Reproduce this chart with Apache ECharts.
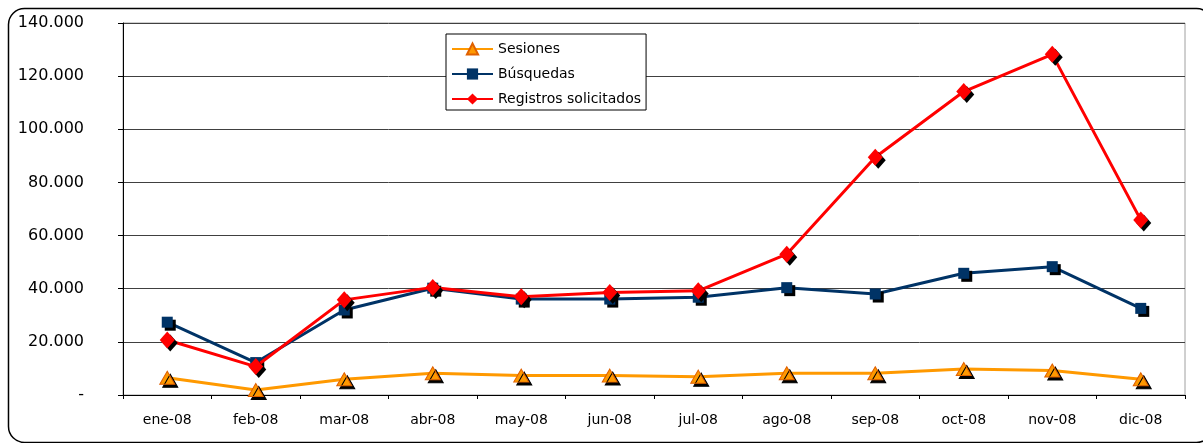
<!DOCTYPE html>
<html>
<head>
<meta charset="utf-8">
<script src="https://cdn.jsdelivr.net/npm/echarts@6/dist/echarts.min.js"></script>
<style>
html,body{margin:0;padding:0;background:#fff;}
#chart{width:1203px;height:443px;}
</style>
</head>
<body>
<div id="chart"></div>
<script>
const categories = ['ene-08','feb-08','mar-08','abr-08','may-08','jun-08','jul-08','ago-08','sep-08','oct-08','nov-08','dic-08'];
const sesiones = [6500, 1900, 5900, 8200, 7300, 7300, 6900, 8200, 8200, 9800, 9200, 5900];
const busquedas = [27400, 12200, 32000, 40200, 36100, 36100, 36800, 40400, 38000, 45800, 48300, 32600];
const registros = [20700, 10700, 35800, 40500, 37000, 38600, 39200, 53000, 89500, 114200, 128200, 65900];
const seriesNames = ['Sesiones', 'Búsquedas', 'Registros solicitados'];

const FONT = 'DejaVu Sans';
const chart = echarts.init(document.getElementById('chart'), null, {renderer: 'canvas'});

function fmt(v) {
  if (v === 0) return '-';
  return String(v).replace(/\B(?=(\d{3})+(?!\d))/g, '.');
}

const shadow = {shadowColor: '#000', shadowOffsetX: 3, shadowOffsetY: 3, shadowBlur: 0};

chart.setOption({
  animation: false,
  backgroundColor: '#fff',
  graphic: [{
    type: 'rect',
    shape: {x: 8.5, y: 8.5, width: 1204, height: 434, r: 16},
    style: {fill: 'none', stroke: '#000', lineWidth: 1.5},
    silent: true,
    z: 0
  }],
  grid: {
    left: 123, right: 18, top: 23, bottom: 48,
    show: true, borderColor: '#a0a0a0', borderWidth: 1, backgroundColor: 'transparent'
  },
  legend: {
    orient: 'vertical',
    left: 446, top: 34,
    data: seriesNames,
    itemWidth: 41, itemHeight: 14, itemGap: 11,
    padding: [8, 5, 4, 5],
    borderColor: '#000', borderWidth: 1, backgroundColor: '#fff',
    textStyle: {fontFamily: FONT, fontSize: 14, color: '#000', lineHeight: 14},
    itemStyle: {shadowColor: 'rgba(0,0,0,0)', shadowOffsetX: 0, shadowOffsetY: 0}
  },
  xAxis: {
    type: 'category',
    data: categories,
    boundaryGap: true,
    axisLine: {lineStyle: {color: '#000', width: 1}},
    axisTick: {show: true, length: 4, lineStyle: {color: '#000'}},
    axisLabel: {fontFamily: FONT, fontSize: 14, color: '#000', margin: 18},
    splitLine: {show: false}
  },
  yAxis: {
    type: 'value',
    min: 0, max: 140000, interval: 20000,
    axisLine: {show: true, lineStyle: {color: '#000', width: 1}},
    axisTick: {show: true, length: 5, lineStyle: {color: '#000'}},
    axisLabel: {fontFamily: FONT, fontSize: 16, color: '#000', margin: 39, formatter: fmt},
    splitLine: {show: true, lineStyle: {color: '#404040', width: 1}}
  },
  series: [
    {
      name: seriesNames[0], type: 'line', data: sesiones,
      symbol: 'triangle', symbolSize: [15, 13], showAllSymbol: true,
      lineStyle: {color: '#FF9900', width: 3},
      itemStyle: Object.assign({color: '#FF9900', borderColor: '#E06000', borderWidth: 1}, shadow),
      z: 3
    },
    {
      name: seriesNames[1], type: 'line', data: busquedas,
      symbol: 'rect', symbolSize: 11, showAllSymbol: true,
      lineStyle: {color: '#003366', width: 3},
      itemStyle: Object.assign({color: '#003366'}, shadow),
      z: 4
    },
    {
      name: seriesNames[2], type: 'line', data: registros,
      symbol: 'diamond', symbolSize: [15, 17], showAllSymbol: true,
      lineStyle: {color: '#FF0000', width: 3},
      itemStyle: Object.assign({color: '#FF0000'}, shadow),
      z: 5
    }
  ]
});
</script>
</body>
</html>
